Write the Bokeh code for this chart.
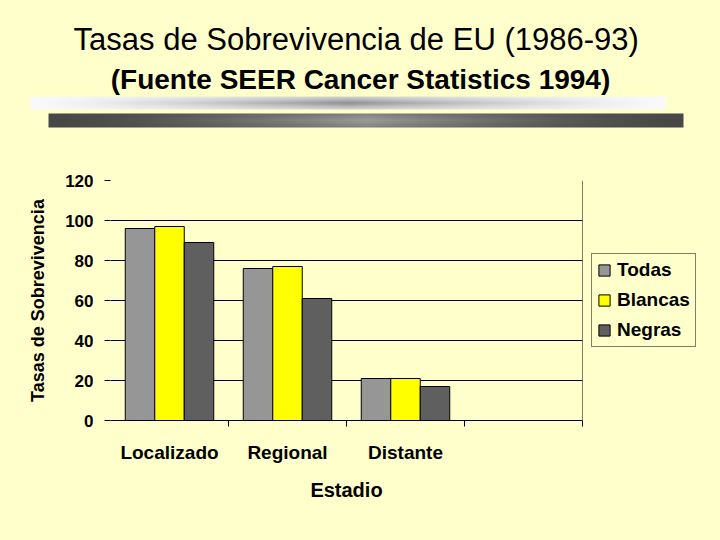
import numpy as np
from bokeh.plotting import figure
from bokeh.models import (Range1d, FixedTicker, Span, Legend, LegendItem, Label,
                          ColumnDataSource)
from bokeh.layouts import column
from bokeh.embed import file_html
from bokeh.resources import INLINE

# ---- data ----
categories = ["Localizado", "Regional", "Distante"]
todas = [96, 76, 21]
blancas = [97, 77, 21]
negras = [89, 61, 17]
series_names = ["Todas", "Blancas", "Negras"]
y_ticks = [0, 20, 40, 60, 80, 100, 120]
title_text = "Tasas de Sobrevivencia de  EU (1986-93)"
subtitle_text = "(Fuente SEER Cancer Statistics 1994)"
y_label = "Tasas de Sobrevivencia"
x_label = "Estadio"

BG = "#FFFFCC"
FONT = "Liberation Sans"
colors = ["#969696", "#FFFF00", "#5F5F5F"]

# ---- header (titles + decorative gradient bars) ----
head = figure(frame_width=720, frame_height=140, x_range=Range1d(0, 720), y_range=Range1d(140, 0),
              output_backend="svg", toolbar_location=None,
              x_axis_location=None, y_axis_location=None, min_border=0,
              outline_line_color=None, background_fill_color=BG, border_fill_color=BG)
head.grid.visible = False
head.frame_align = False


def grad_img(nx, ny, fn):
    img = np.zeros((ny, nx), dtype=np.uint32)
    v = img.view(dtype=np.uint8).reshape((ny, nx, 4))
    u = np.linspace(-1, 1, nx)[None, :]
    w = np.linspace(-1, 1, ny)[:, None]
    g = np.clip(fn(u, w), 0, 255).astype(np.uint8)
    v[..., 0] = g
    v[..., 1] = g
    v[..., 2] = g
    v[..., 3] = 255
    return img


light = grad_img(300, 13, lambda u, w: 250 - 105 * (1 - np.abs(u)) ** 1.3 * (1 - 0.6 * np.abs(w)))
dark = grad_img(300, 14, lambda u, w: 72 + 85 * (1 - np.abs(u)) ** 1.5 * (1 - 0.3 * np.abs(w)))
head.image_rgba(image=[light], x=30, y=96, dw=635, dh=13)
head.image_rgba(image=[dark], x=48, y=113, dw=635, dh=14)

head.add_layout(Label(x=360, y=39, text=title_text, text_align="center",
                      text_baseline="alphabetic", text_font=FONT,
                      text_font_size="31px", text_color="black"))
head.add_layout(Label(x=360, y=79, text=subtitle_text, text_align="center",
                      text_baseline="alphabetic", text_font=FONT, text_font_style="bold",
                      text_font_size="28px", text_color="black"))

# ---- chart ----
p = figure(frame_width=472, frame_height=240, x_range=Range1d(0, 4), y_range=Range1d(0, 120),
           min_border_left=110, min_border_right=138, min_border_top=40, min_border_bottom=120,
           output_backend="svg", toolbar_location=None, background_fill_color=BG,
           border_fill_color=BG, outline_line_color=None)
p.frame_align = False

xs = np.arange(len(categories)) + 0.5
renderers = []
for k, (name, vals, col) in enumerate(zip(series_names, [todas, blancas, negras], colors)):
    src = ColumnDataSource(dict(x=xs + (k - 1) * 0.25, top=vals))
    r = p.vbar(x="x", top="top", bottom=0, width=0.25, source=src,
               fill_color=col, line_color="black", line_width=1)
    renderers.append(r)

# y axis
p.yaxis.ticker = FixedTicker(ticks=y_ticks)
p.yaxis.axis_line_color = None
p.yaxis.major_tick_out = 6
p.yaxis.major_tick_in = 0
p.yaxis.major_tick_line_color = "black"
p.yaxis.minor_tick_line_color = None
p.yaxis.major_label_text_font = FONT
p.yaxis.major_label_text_font_style = "bold"
p.yaxis.major_label_text_font_size = "17px"
p.yaxis.major_label_text_color = "black"
p.yaxis.major_label_standoff = 11
p.yaxis.axis_label = y_label
p.yaxis.axis_label_text_font = FONT
p.yaxis.axis_label_text_font_style = "bold"
p.yaxis.axis_label_text_font_size = "18px"
p.yaxis.axis_label_text_color = "black"
p.yaxis.axis_label_standoff = 14

# x axis
p.xaxis.ticker = FixedTicker(ticks=list(xs), minor_ticks=[1, 2, 3, 4])
p.xaxis.major_label_overrides = {float(x): c for x, c in zip(xs, categories)}
p.xaxis.major_tick_line_color = None
p.xaxis.major_tick_out = 0
p.xaxis.major_tick_in = 0
p.xaxis.minor_tick_out = 6
p.xaxis.minor_tick_in = 0
p.xaxis.minor_tick_line_color = "black"
p.xaxis.axis_line_color = "black"
p.xaxis.major_label_text_font = FONT
p.xaxis.major_label_text_font_style = "bold"
p.xaxis.major_label_text_font_size = "19px"
p.xaxis.major_label_text_color = "black"
p.xaxis.major_label_standoff = 15
p.xaxis.axis_label = x_label
p.xaxis.axis_label_text_font = FONT
p.xaxis.axis_label_text_font_style = "bold"
p.xaxis.axis_label_text_font_size = "20px"
p.xaxis.axis_label_text_color = "black"
p.xaxis.axis_label_standoff = 13

p.xgrid.visible = False
p.ygrid.ticker = FixedTicker(ticks=y_ticks)
p.ygrid.grid_line_color = "black"
p.ygrid.grid_line_width = 1
p.add_layout(Span(location=4, dimension="height", line_color="black", line_width=1))

legend = Legend(items=[LegendItem(label=n, renderers=[r]) for n, r in zip(series_names, renderers)],
                location="center_left", margin=9, padding=5, spacing=8,
                label_height=19, glyph_height=14, glyph_width=14, label_standoff=6,
                label_text_font=FONT, label_text_font_style="bold",
                label_text_font_size="19px", label_text_color="black",
                border_line_color="black", border_line_width=1,
                background_fill_alpha=0)
p.add_layout(legend, "right")

layout = column(head, p)
html = file_html(layout, INLINE)
html = html.replace("<head>", "<head><style>body{background:#FFFFCC;}</style>", 1)
open("out.html", "w").write(html)
